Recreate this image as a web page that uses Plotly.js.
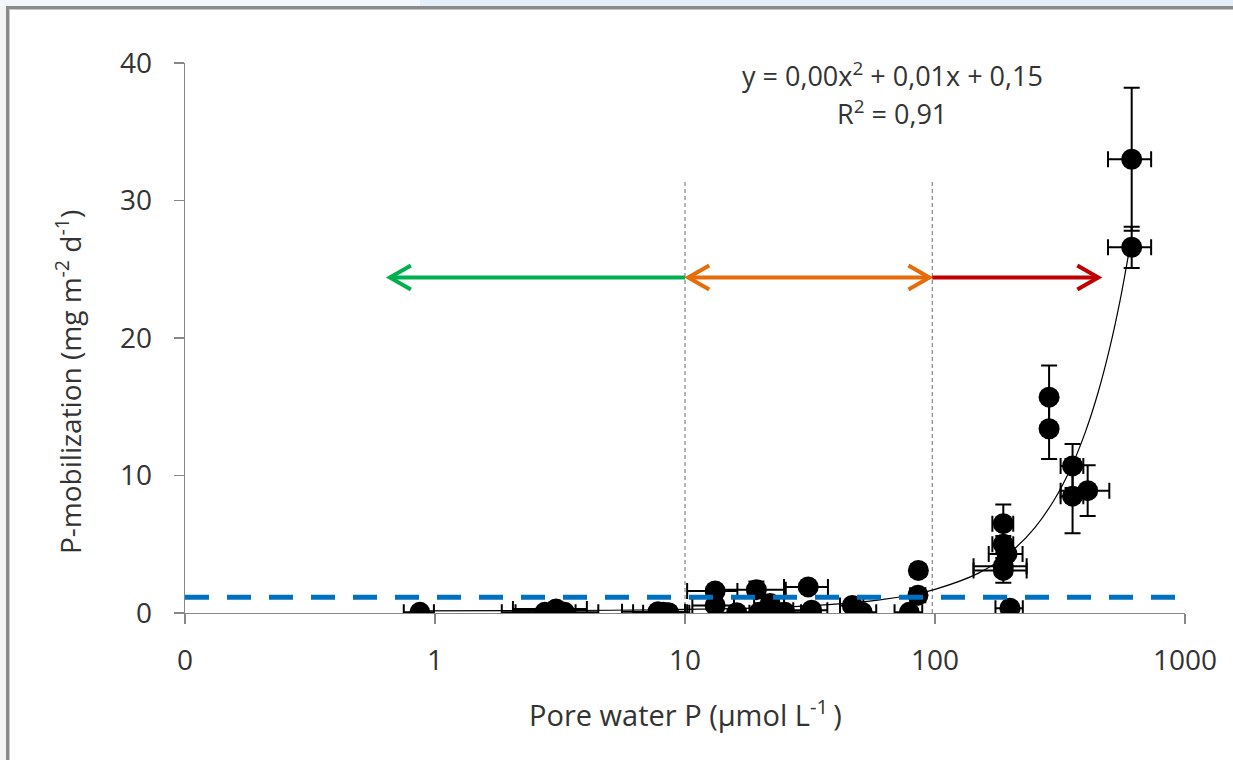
<!DOCTYPE html>
<html>
<head>
<meta charset="utf-8">
<script src="https://cdn.plot.ly/plotly-3.0.1.min.js"></script>
<style>html,body{margin:0;padding:0;background:#fff;}#chart{width:1233px;height:760px;}</style>
</head>
<body>
<div id="chart"></div>
<script>
// Pore water P (µmol L-1) and P-mobilization (mg m-2 d-1), with errors
const poreP    = [0.87, 2.75, 3.05, 3.3, 7.8, 8.2, 8.6,
                  13.2, 13.2, 16.1, 19.3, 19.8, 21.9, 25.1, 31.1, 32.1, 46.7, 51.2, 78.9, 85.5, 85.8,
                  187.6, 187.6, 194, 187.6, 187.6, 199.5, 286, 286, 355, 355, 408, 612, 612];
const pMobil   = [0.05, 0.05, 0.3, 0.05, 0.1, 0.05, 0.02,
                  1.6, 0.55, 0.02, 1.7, 0.05, 0.7, 0.05, 1.9, 0.2, 0.55, 0.05, 0.05, 1.3, 3.1,
                  6.5, 5.0, 4.3, 3.4, 3.1, 0.35, 15.7, 13.4, 10.7, 8.5, 8.9, 33.0, 26.6];
const porePErr = [0.12, 0.9, 1.0, 1.2, 2.2, 2.0, 1.8,
                  3.0, 2.5, 2.0, 6.0, 3.0, 3.0, 4.0, 6.2, 5.0, 5.0, 7.0, 10, 6.0, 3.0,
                  18, 18, 30, 45, 45, 25, 10, 10, 37, 37, 90, 120, 120];
const pMobilErr = [0, 0, 0, 0, 0, 0, 0,
                  0.2, 0, 0, 0.6, 0, 0, 0, 0, 0, 0, 0, 0, 0, 0.45,
                  1.4, 0.6, 0, 0, 0.9, 0, 2.3, 2.2, 1.6, 2.7, 1.85, 5.2, 1.5];

// Trend line
const fitX = [0.85, 2, 5, 10, 20, 40, 60, 80, 100, 150, 200, 250, 300, 350, 400, 450, 500, 550, 600];
const fitY = [0.16, 0.17, 0.2, 0.26, 0.37, 0.64, 0.95, 1.31, 1.72, 2.92, 4.41, 6.18, 8.24, 10.57, 13.19, 16.09, 19.28, 22.74, 26.49];

// Reference lines and zone arrows
const zoneBounds = [10, 97.5];
const zoneLineTop = 31.5;
const baselineFlux = 1.15;
const arrowLevel = 24.4;
const arrowFrom = [10, 10.3, 97.5];
const arrowTo   = [0.66, 95, 450];
const arrowHeadStart = [false, true, false];
const arrowHeadEnd   = [true, true, true];
const arrowColors = ['#00b050', '#e46c0a', '#c00000'];

const xTickVals = [0.1, 1, 10, 100, 1000];
const xTickText = ['0', '1', '10', '100', '1000'];
const yTickVals = [0, 10, 20, 30, 40];

const FONT = '"Open Sans", "Noto Sans", sans-serif';
const TXT = '#333333';
const AX = '#878787';

const W = 1233, H = 760, L = 185, R = 48, T = 63, B = 147;
const pw = W - L - R, ph = H - T - B;
const toPX = v => (Math.log10(v) + 1) / 4;   // paper x of a log value
const toPY = v => v / 40;                      // paper y of a value
const pxX = p => (p - L) / pw;                 // pixel -> paper
const pxY = p => (H - B - p) / ph;

const traces = [
  {
    x: fitX, y: fitY, type: 'scatter', mode: 'lines',
    line: {color: '#000', width: 1.2, shape: 'spline'},
    hoverinfo: 'skip', showlegend: false
  },
  {
    x: poreP, y: pMobil, type: 'scatter', mode: 'markers',
    marker: {color: '#000', size: 21, line: {width: 0}},
    error_x: {type: 'data', array: porePErr, visible: true, color: '#000', thickness: 2, width: 8},
    error_y: {type: 'data', array: pMobilErr, visible: true, color: '#000', thickness: 2, width: 8},
    showlegend: false
  }
];

const shapes = [];
// outer frame look
shapes.push({type:'rect', xref:'paper', yref:'paper', x0:pxX(0), x1:pxX(W), y0:pxY(0), y1:pxY(6), fillcolor:'#e4eef9', line:{width:0}, layer:'below'});
shapes.push({type:'rect', xref:'paper', yref:'paper', x0:pxX(0), x1:pxX(420), y0:pxY(0), y1:pxY(6), fillcolor:'#f3f6fa', line:{width:0}, layer:'below'});
shapes.push({type:'rect', xref:'paper', yref:'paper', x0:pxX(0), x1:pxX(6), y0:pxY(6), y1:pxY(H), fillcolor:'#f4f4f4', line:{width:0}, layer:'below'});
shapes.push({type:'rect', xref:'paper', yref:'paper', x0:pxX(6), x1:pxX(W), y0:pxY(6), y1:pxY(9), fillcolor:'#8a8a8a', line:{width:0}, layer:'below'});
shapes.push({type:'rect', xref:'paper', yref:'paper', x0:pxX(6), x1:pxX(W), y0:pxY(9), y1:pxY(10), fillcolor:'#c8c8c8', line:{width:0}, layer:'below'});
shapes.push({type:'rect', xref:'paper', yref:'paper', x0:pxX(6), x1:pxX(9), y0:pxY(6), y1:pxY(H), fillcolor:'#8a8a8a', line:{width:0}, layer:'below'});
shapes.push({type:'rect', xref:'paper', yref:'paper', x0:pxX(9), x1:pxX(10), y0:pxY(9), y1:pxY(H), fillcolor:'#c8c8c8', line:{width:0}, layer:'below'});

// zone boundary lines
zoneBounds.forEach(v => {
  shapes.push({type:'line', xref:'paper', yref:'y', x0:toPX(v), x1:toPX(v), y0:0, y1:zoneLineTop,
               line:{color:'#6f6f6f', width:1, dash:'4px,3px'}, layer:'below'});
});

// baseline dashed
shapes.push({type:'line', xref:'paper', yref:'y', x0:0, x1:1, y0:baselineFlux, y1:baselineFlux,
             line:{color:'#0070c0', width:5, dash:'24px,18px'}, layer:'above'});

// arrows
const hdx = 21 / pw, hdy = 12 / ph;
const ay = toPY(arrowLevel);
arrowFrom.forEach((f, i) => {
  const x0 = toPX(f), x1 = toPX(arrowTo[i]);
  const c = arrowColors[i];
  shapes.push({type:'line', xref:'paper', yref:'paper', x0:x0, x1:x1, y0:ay, y1:ay, line:{color:c, width:4}});
  const head = (tip, dir) => {
    const bx = tip - dir * hdx;
    shapes.push({type:'path', xref:'paper', yref:'paper',
      path:`M ${bx},${ay + hdy} L ${tip},${ay} L ${bx},${ay - hdy}`, line:{color:c, width:4}});
  };
  const dir = Math.sign(x1 - x0);
  if (arrowHeadEnd[i]) head(x1, dir);
  if (arrowHeadStart[i]) head(x0, -dir);
});

const annotations = [
  {xref:'paper', yref:'paper', x:pxX(892), y:pxY(74), text:'y = 0,00x<sup>2</sup> + 0,01x + 0,15',
   showarrow:false, xanchor:'center', yanchor:'middle', font:{family:FONT, size:27, color:TXT}},
  {xref:'paper', yref:'paper', x:pxX(892), y:pxY(112), text:'R<sup>2</sup> = 0,91',
   showarrow:false, xanchor:'center', yanchor:'middle', font:{family:FONT, size:27, color:TXT}},
  {xref:'paper', yref:'paper', x:pxX(68), y:pxY(382), text:'P-mobilization (mg m<sup>-2</sup> d<sup>-1</sup>)',
   textangle:-90, showarrow:false, xanchor:'center', yanchor:'middle', font:{family:FONT, size:28, color:TXT}},
  {xref:'paper', yref:'paper', x:pxX(685), y:pxY(713), text:'Pore water P (µmol L<sup>-1 </sup>)',
   showarrow:false, xanchor:'center', yanchor:'middle', font:{family:FONT, size:29, color:TXT}}
];

const layout = {
  width: W, height: H,
  margin: {l: L, r: R, t: T, b: B, pad: 0},
  paper_bgcolor: '#ffffff', plot_bgcolor: '#ffffff',
  showlegend: false,
  xaxis: {
    type: 'log', range: [-1, 3], tickvals: xTickVals, ticktext: xTickText,
    showgrid: false, zeroline: false, showline: true, linecolor: AX, linewidth: 1.3,
    ticks: 'outside', ticklen: 10, tickcolor: AX, tickwidth: 1.3, ticklabelstandoff: 12,
    tickfont: {family: FONT, size: 28, color: TXT}, fixedrange: true
  },
  yaxis: {
    range: [0, 40], tickvals: yTickVals,
    showgrid: false, zeroline: false, showline: true, linecolor: AX, linewidth: 1.3,
    ticks: 'outside', ticklen: 10, tickcolor: AX, tickwidth: 1.3, ticklabelstandoff: 16,
    tickfont: {family: FONT, size: 28, color: TXT}, fixedrange: true
  },
  shapes: shapes,
  annotations: annotations
};

Plotly.newPlot('chart', traces, layout, {displayModeBar: false, staticPlot: true});
</script>
</body>
</html>
